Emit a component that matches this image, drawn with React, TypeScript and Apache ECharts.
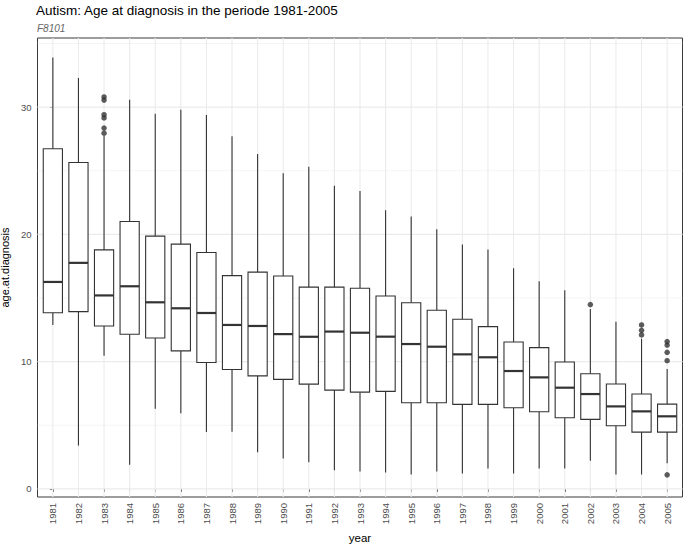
import React, { useEffect, useRef } from "react";
import * as echarts from "echarts";

const years = [
  "1981", "1982", "1983", "1984", "1985", "1986", "1987", "1988", "1989", "1990",
  "1991", "1992", "1993", "1994", "1995", "1996", "1997", "1998", "1999", "2000",
  "2001", "2002", "2003", "2004", "2005",
];
const whiskerLow = [
  12.87, 3.4, 10.46, 1.9, 6.3, 5.95, 4.47, 4.48, 2.88, 2.38,
  2.1, 1.47, 1.37, 1.29, 1.13, 1.37, 1.21, 1.6, 1.21, 1.6,
  1.6, 2.2, 1.13, 1.13, 2.02,
];
const quartile1 = [
  13.84, 13.93, 12.8, 12.15, 11.85, 10.84, 9.93, 9.38, 8.88, 8.6,
  8.23, 7.76, 7.6, 7.66, 6.77, 6.77, 6.64, 6.64, 6.37, 6.06,
  5.59, 5.46, 4.96, 4.46, 4.46,
];
const medians = [
  16.26, 17.76, 15.2, 15.92, 14.66, 14.19, 13.82, 12.88, 12.8, 12.16,
  11.95, 12.36, 12.27, 11.96, 11.38, 11.17, 10.57, 10.34, 9.26, 8.76,
  7.95, 7.45, 6.48, 6.09, 5.7,
];
const quartile3 = [
  26.73, 25.65, 18.78, 21.01, 19.86, 19.23, 18.57, 16.76, 17.03, 16.73,
  15.85, 15.85, 15.77, 15.16, 14.63, 14.04, 13.33, 12.75, 11.54, 11.1,
  9.97, 9.05, 8.24, 7.45, 6.66,
];
const whiskerHigh = [
  33.9, 32.29, 27.75, 30.58, 29.48, 29.8, 29.37, 27.7, 26.31, 24.81,
  25.31, 23.82, 23.4, 21.9, 21.4, 20.4, 19.2, 18.8, 17.34, 16.32,
  15.61, 14.14, 13.14, 11.8, 9.42,
];
const outlierYears = [
  "1983", "1983", "1983", "1983", "1983", "1983",
  "2002",
  "2004", "2004", "2004",
  "2005", "2005", "2005", "2005", "2005",
];
const outlierValues = [
  30.8, 30.55, 29.4, 29.15, 28.35, 27.95,
  14.48,
  12.88, 12.46, 12.1,
  11.57, 11.3, 10.73, 10.07, 1.1,
];
const yMajorTicks = [0, 10, 20, 30];
const yMinorTicks = [5, 15, 25, 35];

const FONT = "'Liberation Sans', Arial, Helvetica, sans-serif";
const INK = "#333333";

export default function App() {
  const ref = useRef<HTMLDivElement>(null);

  useEffect(() => {
    const chart = echarts.init(ref.current!, null, { renderer: "svg" });
    const idx = years.map((_, i) => i);
    const boxData = years.map((_, i) => [
      i, whiskerLow[i], quartile1[i], medians[i], quartile3[i], whiskerHigh[i],
    ]);
    const outliers = outlierYears.map((y, k) => [years.indexOf(y), outlierValues[k]]);
    const gridLines: number[][] = [
      ...yMinorTicks.map((v) => [0, v, 0.55]),
      ...yMajorTicks.map((v) => [0, v, 1.1]),
      ...idx.map((v) => [1, v, 1.1]),
    ];

    chart.setOption({
      animation: false,
      backgroundColor: "#ffffff",
      title: [
        {
          text: "Autism: Age at diagnosis in the periode 1981-2005",
          left: 36,
          top: 3,
          padding: 0,
          textStyle: { fontSize: 13.5, fontWeight: "normal", color: "#000", fontFamily: FONT },
        },
        {
          text: "F8101",
          left: 37,
          top: 23,
          padding: 0,
          textStyle: { fontSize: 10, fontWeight: "normal", fontStyle: "italic", color: "#666", fontFamily: FONT },
        },
      ],
      grid: {
        left: 37.5,
        top: 38,
        width: 645,
        height: 459,
        outerBoundsMode: "none",
        containLabel: false,
        show: true,
        borderColor: "#3a3a3a",
        borderWidth: 1,
        backgroundColor: "#ffffff",
      },
      xAxis: {
        type: "value",
        min: -0.6,
        max: 24.6,
        axisLine: { show: false },
        splitLine: { show: false },
        axisTick: { customValues: idx, length: 3, lineStyle: { color: INK } },
        axisLabel: {
          customValues: idx,
          rotate: 90,
          margin: 6,
          fontSize: 9.5,
          color: "#4d4d4d",
          fontFamily: FONT,
          formatter: (v: number) => years[Math.round(v)],
        },
        name: "year",
        nameLocation: "middle",
        nameGap: 35,
        nameTextStyle: { fontSize: 11.5, color: "#000", fontFamily: FONT },
      },
      yAxis: {
        type: "value",
        min: -0.64,
        max: 35.43,
        axisLine: { show: false },
        splitLine: { show: false },
        axisTick: { customValues: yMajorTicks, length: 3, lineStyle: { color: INK } },
        axisLabel: {
          customValues: yMajorTicks,
          margin: 6,
          fontSize: 9.5,
          color: "#4d4d4d",
          fontFamily: FONT,
        },
        name: "age.at.diagnosis",
        nameLocation: "middle",
        nameGap: 22,
        nameTextStyle: { fontSize: 11, color: "#000", fontFamily: FONT },
      },
      series: [
        {
          type: "custom",
          silent: true,
          z: 1,
          data: gridLines,
          encode: { x: 0, y: 1 },
          renderItem: (params: any, api: any) => {
            const kind = api.value(0);
            const v = api.value(1);
            const w = api.value(2);
            const cs = params.coordSys;
            if (kind === 0) {
              const y = api.coord([0, v])[1];
              return {
                type: "line",
                shape: { x1: cs.x, y1: y, x2: cs.x + cs.width, y2: y },
                style: { stroke: "#ebebeb", lineWidth: w },
              };
            }
            const x = api.coord([v, 0])[0];
            return {
              type: "line",
              shape: { x1: x, y1: cs.y, x2: x, y2: cs.y + cs.height },
              style: { stroke: "#ebebeb", lineWidth: w },
            };
          },
        },
        {
          type: "custom",
          z: 3,
          data: boxData,
          encode: { x: 0, y: [1, 2, 3, 4, 5] },
          renderItem: (_params: any, api: any) => {
            const x = api.value(0);
            const lo = api.coord([x, api.value(1)]);
            const b1 = api.coord([x, api.value(2)]);
            const m = api.coord([x, api.value(3)]);
            const b3 = api.coord([x, api.value(4)]);
            const hi = api.coord([x, api.value(5)]);
            const half = api.size([0.75, 0])[0] / 2;
            const st = { stroke: INK, lineWidth: 1.1, fill: "none" };
            return {
              type: "group",
              children: [
                { type: "line", shape: { x1: lo[0], y1: lo[1], x2: b1[0], y2: b1[1] }, style: st },
                { type: "line", shape: { x1: b3[0], y1: b3[1], x2: hi[0], y2: hi[1] }, style: st },
                {
                  type: "rect",
                  shape: { x: b3[0] - half, y: b3[1], width: half * 2, height: b1[1] - b3[1] },
                  style: { stroke: INK, lineWidth: 1.1, fill: "#ffffff" },
                },
                {
                  type: "line",
                  shape: { x1: m[0] - half, y1: m[1], x2: m[0] + half, y2: m[1] },
                  style: { stroke: INK, lineWidth: 2.2 },
                },
              ],
            };
          },
        },
        {
          type: "scatter",
          z: 4,
          data: outliers,
          symbol: "circle",
          symbolSize: 5.5,
          itemStyle: { color: INK },
        },
      ],
    });

    return () => chart.dispose();
  }, []);

  return (
    <div
      ref={ref}
      style={{ position: "fixed", left: 0, top: 0, width: 685, height: 546 }}
    />
  );
}
